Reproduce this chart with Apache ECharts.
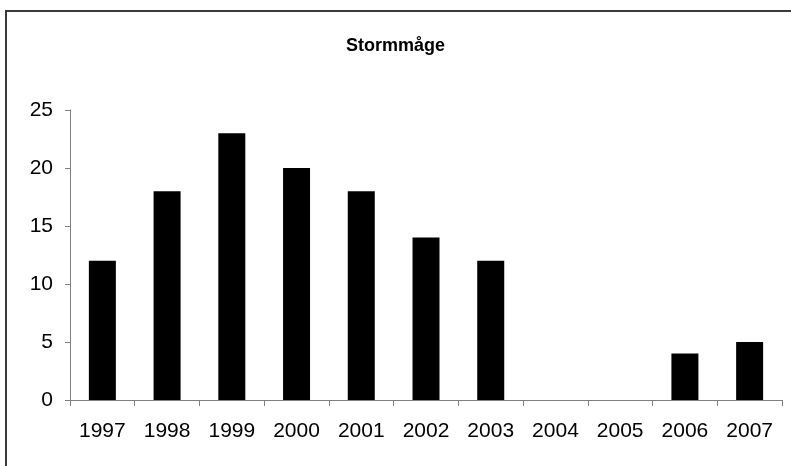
<!DOCTYPE html>
<html>
<head>
<meta charset="utf-8">
<script src="https://cdn.jsdelivr.net/npm/echarts@6/dist/echarts.min.js"></script>
<style>html,body{margin:0;padding:0;background:#fff}#c{width:791px;height:466px}</style>
</head>
<body>
<div id="c"></div>
<script>
var categories = ['1997','1998','1999','2000','2001','2002','2003','2004','2005','2006','2007'];
var values = [12, 18, 23, 20, 18, 14, 12, 0, 0, 4, 5];
var yTicks = {min: 0, max: 25, interval: 5};
var titleText = 'Stormmåge';

var chart = echarts.init(document.getElementById('c'), null, {renderer: 'canvas'});
chart.setOption({
  animation: false,
  backgroundColor: '#fff',
  title: {
    text: titleText, left: 'center', top: 32,
    textStyle: {fontFamily: 'Liberation Sans, Arial', fontSize: 18, fontWeight: 'bold', color: '#000'}
  },
  graphic: [{
    type: 'rect', silent: true,
    shape: {x: 6, y: 11, width: 900, height: 600},
    style: {fill: 'none', stroke: '#3a3a3a', lineWidth: 2}
  }],
  grid: {left: 70, right: 9, top: 110, bottom: 66},
  xAxis: {
    type: 'category', data: categories,
    axisLine: {lineStyle: {color: '#808080', width: 1}},
    axisTick: {show: true, length: 6, lineStyle: {color: '#808080'}},
    axisLabel: {margin: 21, color: '#000', fontFamily: 'Liberation Sans, Arial', fontSize: 21}
  },
  yAxis: {
    type: 'value', min: yTicks.min, max: yTicks.max, interval: yTicks.interval,
    splitLine: {show: false},
    axisLine: {show: true, lineStyle: {color: '#808080', width: 1}},
    axisTick: {show: true, length: 5, lineStyle: {color: '#808080'}},
    axisLabel: {margin: 17, color: '#000', fontFamily: 'Liberation Sans, Arial', fontSize: 21}
  },
  series: [{
    type: 'bar', data: values, barWidth: 27,
    itemStyle: {color: '#000'}
  }]
});
</script>
</body>
</html>
